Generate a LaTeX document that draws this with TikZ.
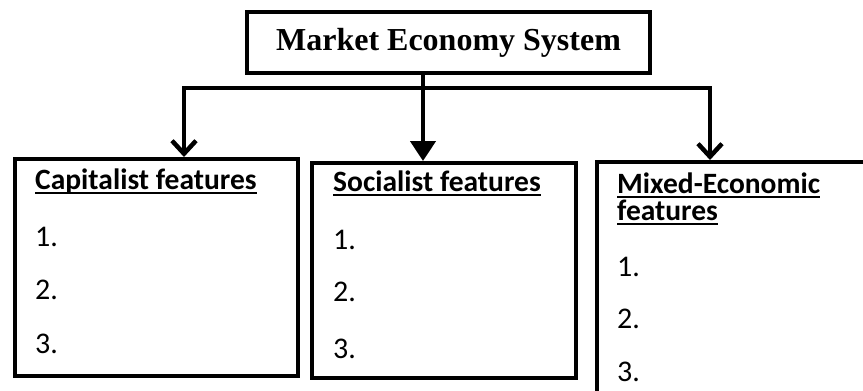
\documentclass[tikz,border=0pt]{standalone}
\usepackage{fontspec}
\setmainfont{Carlito}
\newfontfamily\titlefont{Liberation Serif}
\usetikzlibrary{arrows.meta}
\tikzset{
  mybarb/.tip={Straight Barb[length=13pt,width=24pt]},
  mytri/.tip={Triangle[length=20pt,width=25pt]},
}
\begin{document}
\begin{tikzpicture}[x=1pt,y=-1pt,
  box/.style={draw, line width=4pt, inner sep=0pt},
  head/.style={anchor=base west, inner sep=0pt, font=\fontsize{29.5}{29.5}\selectfont\bfseries},
  num/.style={anchor=base west, inner sep=0pt, font=\fontsize{30}{30}\selectfont},
  conn/.style={line width=4.5pt},
  uline/.style={line width=2.5pt},
]
\useasboundingbox (0,0) rectangle (863,391);
\clip (0,0) rectangle (863,391);

% boxes
\node[box, minimum width=403pt, minimum height=61pt, font=\titlefont\fontsize{32}{32}\selectfont\bfseries] (top) at (448.5,42.5) {Market Economy System};
\node[box, anchor=north west, minimum width=283pt, minimum height=217pt] (cap) at (13,157) {};
\node[box, anchor=north west, minimum width=264pt, minimum height=215pt] (soc) at (310,161) {};
\node[box, anchor=north west, minimum width=290pt, minimum height=260pt] (mix) at (595,160) {};

% connectors
\coordinate (jl) at (184,88);
\coordinate (jr) at (710,88);
\coordinate (cx) at (423,0);
\draw[conn, mybarb-mybarb] (cap.north -| jl) -- (jl) -- (jr) -- (mix.north -| jr);
\draw[conn, -mytri] (top.south -| cx) -- (soc.north -| cx);

% texts box 1
\node[head] (h1) at (35,189) {Capitalist features};
\draw[uline] ([yshift=-4pt]h1.base west) -- ([yshift=-4pt]h1.base east);
\node[num] (c1) at (35,246) {1.};
\node[num] (c2) at (35,299) {2.};
\node[num] (c3) at (35,353) {3.};

% texts box 2
\node[head] (h2) at (333,191) {Socialist features};
\draw[uline] ([yshift=-4pt]h2.base west) -- ([yshift=-4pt]h2.base east);
\node[num] (s1) at (333,249) {1.};
\node[num] (s2) at (333,301) {2.};
\node[num] (s3) at (333,358) {3.};

% texts box 3
\node[head] (h3a) at (617,193) {Mixed-Economic};
\draw[uline] ([yshift=-4pt]h3a.base west) -- ([yshift=-4pt]h3a.base east);
\node[head] (h3b) at (617,220) {features};
\draw[uline] ([yshift=-4pt]h3b.base west) -- ([yshift=-4pt]h3b.base east);
\node[num] (m1) at (617,276) {1.};
\node[num] (m2) at (617,328) {2.};
\node[num] (m3) at (617,381) {3.};
\end{tikzpicture}
\end{document}
